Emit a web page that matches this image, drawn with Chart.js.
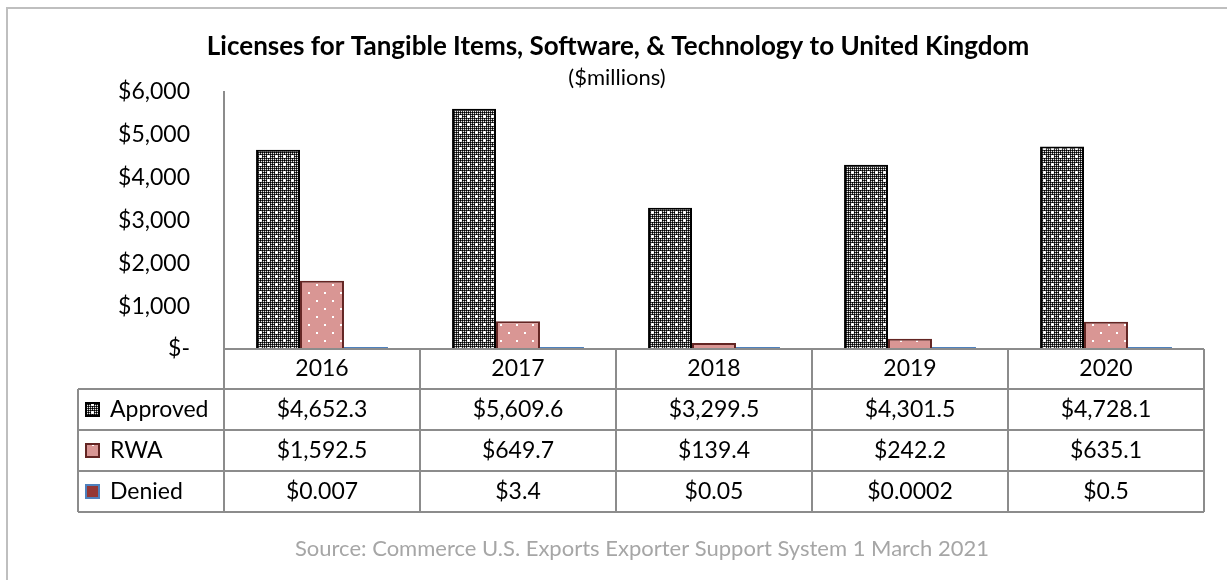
<!DOCTYPE html>
<html>
<head>
<meta charset="utf-8">
<script src="https://cdn.jsdelivr.net/npm/chart.js@4"></script>
<style>
html,body{margin:0;padding:0;background:#fff;}
canvas{display:block;}
</style>
</head>
<body>
<canvas id="c" width="1227" height="580"></canvas>
<script>
// ---- data ----
const categories = ['2016', '2017', '2018', '2019', '2020'];
const seriesNames = ['Approved', 'RWA', 'Denied'];
const approved = [4652.3, 5609.6, 3299.5, 4301.5, 4728.1];
const rwa = [1592.5, 649.7, 139.4, 242.2, 635.1];
const denied = [0.007, 3.4, 0.05, 0.0002, 0.5];
const yTickValues = [0, 1000, 2000, 3000, 4000, 5000, 6000];
const titleText = 'Licenses for Tangible Items, Software, & Technology to United Kingdom';
const subtitleText = '($millions)';
const sourceText = 'Source: Commerce U.S. Exports Exporter Support System 1 March 2021';

const FONT = 'Lato, "Open Sans", sans-serif';
const TEXT_SIZE = 23;

function makeApprovedPattern() {
  const c = document.createElement('canvas');
  c.width = 8; c.height = 8;
  const g = c.getContext('2d');
  g.fillStyle = '#000'; g.fillRect(0, 0, 8, 8);
  for (let y = 0; y < 8; y += 2) for (let x = 0; x < 8; x += 2) {
    g.fillStyle = '#e8e8e8'; g.fillRect(x + 1, y + 1, 1, 1);
    g.fillStyle = '#3a3a3a'; g.fillRect(x + 1, y, 1, 1); g.fillRect(x, y + 1, 1, 1);
  }
  g.fillStyle = '#fff';
  g.fillRect(3, 4, 3, 1); g.fillRect(4, 3, 1, 3);
  return g.createPattern(c, 'repeat');
}
function makeRwaPattern() {
  const c = document.createElement('canvas');
  c.width = 16; c.height = 16;
  const g = c.getContext('2d');
  g.fillStyle = '#D99694'; g.fillRect(0, 0, 16, 16);
  g.fillStyle = '#fff';
  g.fillRect(4, 4, 2, 2); g.fillRect(12, 12, 2, 2);
  return g.createPattern(c, 'repeat');
}

function fmtMoney(v, dec) {
  if (dec === null) return '$' + String(v);
  return '$' + v.toLocaleString('en-US', {minimumFractionDigits: dec, maximumFractionDigits: dec});
}
function fitFont(ctx, text, weight, targetW, maxSize) {
  ctx.font = weight + ' 100px ' + FONT;
  const w = ctx.measureText(text).width;
  const size = Math.min(maxSize, 100 * targetW / w);
  return weight + ' ' + size.toFixed(2) + 'px ' + FONT;
}

const GRID = '#8C8C8C';

const decorPlugin = {
  id: 'decor',
  beforeDraw(chart) {
    const ctx = chart.ctx;
    ctx.save();
    ctx.fillStyle = '#fff';
    ctx.fillRect(0, 0, chart.width, chart.height);
    ctx.strokeStyle = '#BFBFBF';
    ctx.lineWidth = 2;
    ctx.strokeRect(7, 8, chart.width + 20, chart.height + 20);
    ctx.restore();
  },
  afterDraw(chart) {
    const ctx = chart.ctx;
    const xs = chart.scales.x;
    const area = chart.chartArea;
    ctx.save();
    // title & subtitle
    ctx.fillStyle = '#000';
    ctx.textAlign = 'center';
    ctx.textBaseline = 'middle';
    ctx.font = fitFont(ctx, titleText, 'bold', 877, 26);
    ctx.fillText(titleText, 618, 47);
    ctx.font = fitFont(ctx, subtitleText, 'normal', 124, 22);
    ctx.fillText(subtitleText, 617, 78);
    // source
    ctx.fillStyle = '#A6A6A6';
    ctx.font = fitFont(ctx, sourceText, 'normal', 745, 22);
    ctx.fillText(sourceText, 642, 549);

    // data table
    const n = categories.length;
    const step = (area.right - area.left) / n;
    const top = area.bottom;
    const rowH = [40, 41, 41, 41];
    const rowY = [top];
    rowH.forEach((h, i) => rowY.push(rowY[i] + h));
    const tableLeft = 78;
    ctx.strokeStyle = GRID;
    ctx.lineWidth = 2;
    ctx.beginPath();
    ctx.moveTo(area.left, top); ctx.lineTo(area.right, top);
    for (let i = 0; i <= n; i++) {
      const x = area.left + i * step;
      ctx.moveTo(x, top); ctx.lineTo(x, rowY[4]);
    }
    for (let r = 1; r <= 4; r++) {
      ctx.moveTo(tableLeft, rowY[r]); ctx.lineTo(area.right, rowY[r]);
    }
    ctx.moveTo(tableLeft, rowY[1]); ctx.lineTo(tableLeft, rowY[4]);
    ctx.stroke();

    ctx.fillStyle = '#000';
    ctx.font = TEXT_SIZE + 'px ' + FONT;
    ctx.textAlign = 'center';
    for (let i = 0; i < n; i++) {
      const cx = xs.getPixelForValue(i);
      ctx.fillText(categories[i], cx, (rowY[0] + rowY[1]) / 2);
    }
    chart.data.datasets.forEach((ds, d) => {
      const cy = (rowY[d + 1] + rowY[d + 2]) / 2;
      ctx.textAlign = 'center';
      ctx.fillStyle = '#000';
      ds.data.forEach((v, i) => {
        ctx.fillText(fmtMoney(v, ds.tableDecimals), xs.getPixelForValue(i), cy);
      });
      // key
      const k = 13, kx = 86, ky = Math.round(cy - k / 2);
      ctx.fillStyle = ds.backgroundColor;
      ctx.fillRect(kx, ky, k, k);
      ctx.strokeStyle = ds.borderColor;
      ctx.lineWidth = 2;
      ctx.strokeRect(kx, ky, k, k);
      ctx.fillStyle = '#000';
      ctx.textAlign = 'left';
      ctx.fillText(ds.label, 110, cy);
    });
    ctx.restore();
  }
};

const ctx = document.getElementById('c').getContext('2d');
new Chart(ctx, {
  type: 'bar',
  data: {
    labels: categories,
    datasets: [
      {label: seriesNames[0], data: approved, backgroundColor: makeApprovedPattern(), borderColor: '#000', borderWidth: 2, borderSkipped: 'start', tableDecimals: 1},
      {label: seriesNames[1], data: rwa, backgroundColor: makeRwaPattern(), borderColor: '#632523', borderWidth: 2, borderSkipped: 'start', tableDecimals: 1},
      {label: seriesNames[2], data: denied, backgroundColor: '#953735', borderColor: '#4F81BD', borderWidth: 2, borderSkipped: false, minBarLength: 2, tableDecimals: null}
    ]
  },
  options: {
    responsive: false,
    animation: false,
    devicePixelRatio: 1,
    layout: {padding: {left: 0, right: 23, top: 92, bottom: 231}},
    categoryPercentage: 0.673,
    barPercentage: 1.0,
    plugins: {legend: {display: false}, title: {display: false}, tooltip: {enabled: false}},
    scales: {
      x: {
        grid: {display: false, drawTicks: false},
        border: {display: false},
        ticks: {display: false},
        afterFit(s) { s.height = 0; }
      },
      y: {
        min: 0, max: 6000,
        afterBuildTicks(s) { s.ticks = yTickValues.map(v => ({value: v})); },
        grid: {display: false, drawTicks: false},
        border: {display: true, color: GRID, width: 2},
        ticks: {
          padding: 34,
          color: '#000',
          font: {family: 'Lato', size: TEXT_SIZE},
          callback: v => v === 0 ? '$-' : '$' + v.toLocaleString('en-US')
        },
        afterFit(s) { s.width = 224; }
      }
    }
  },
  plugins: [decorPlugin]
});
</script>
</body>
</html>
